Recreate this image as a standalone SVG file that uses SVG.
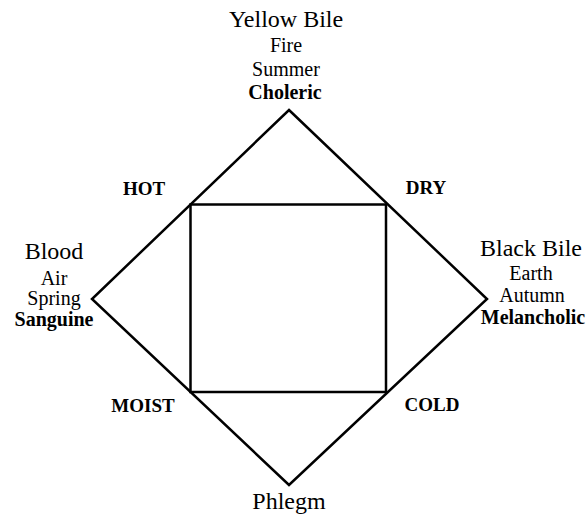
<svg xmlns="http://www.w3.org/2000/svg" width="587" height="516" viewBox="0 0 587 516">
<style>
.ln{fill:none;stroke:#000;stroke-width:2.5;stroke-linejoin:miter}
.tx text{fill:#000;text-anchor:middle}
.t{font-size:24px}
.s{font-size:20px}
.b{font-size:20px;font-weight:bold}
.q{font-size:19px;font-weight:bold}
</style>
<rect width="587" height="516" fill="#fff"/>
<g id="connectors">
<polygon class="ln" points="289,110 487,299 289,485 92,299"/>
<rect class="ln" x="190.5" y="204.5" width="195.5" height="187.5"/>
</g>
<g class="tx" font-family="Liberation Serif, Times New Roman, DejaVu Serif, serif">
<g id="yellow-bile">
<text class="t" x="286" y="27">Yellow Bile</text>
<text class="s" x="286" y="52">Fire</text>
<text class="s" x="286" y="76">Summer</text>
<text class="b" x="285" y="99">Choleric</text>
</g>
<g id="blood">
<text class="t" x="54" y="259">Blood</text>
<text class="s" x="54" y="285">Air</text>
<text class="s" x="54" y="305">Spring</text>
<text class="b" x="54" y="326">Sanguine</text>
</g>
<g id="black-bile">
<text class="t" x="531" y="256">Black Bile</text>
<text class="s" x="531" y="280">Earth</text>
<text class="s" x="532" y="302">Autumn</text>
<text class="b" x="533" y="324">Melancholic</text>
</g>
<g id="phlegm">
<text class="t" x="289" y="509">Phlegm</text>
</g>
<g id="hot"><text class="q" x="144" y="195">HOT</text></g>
<g id="dry"><text class="q" x="426" y="194">DRY</text></g>
<g id="moist"><text class="q" x="143" y="412">MOIST</text></g>
<g id="cold"><text class="q" x="432" y="411">COLD</text></g>
</g>
</svg>
